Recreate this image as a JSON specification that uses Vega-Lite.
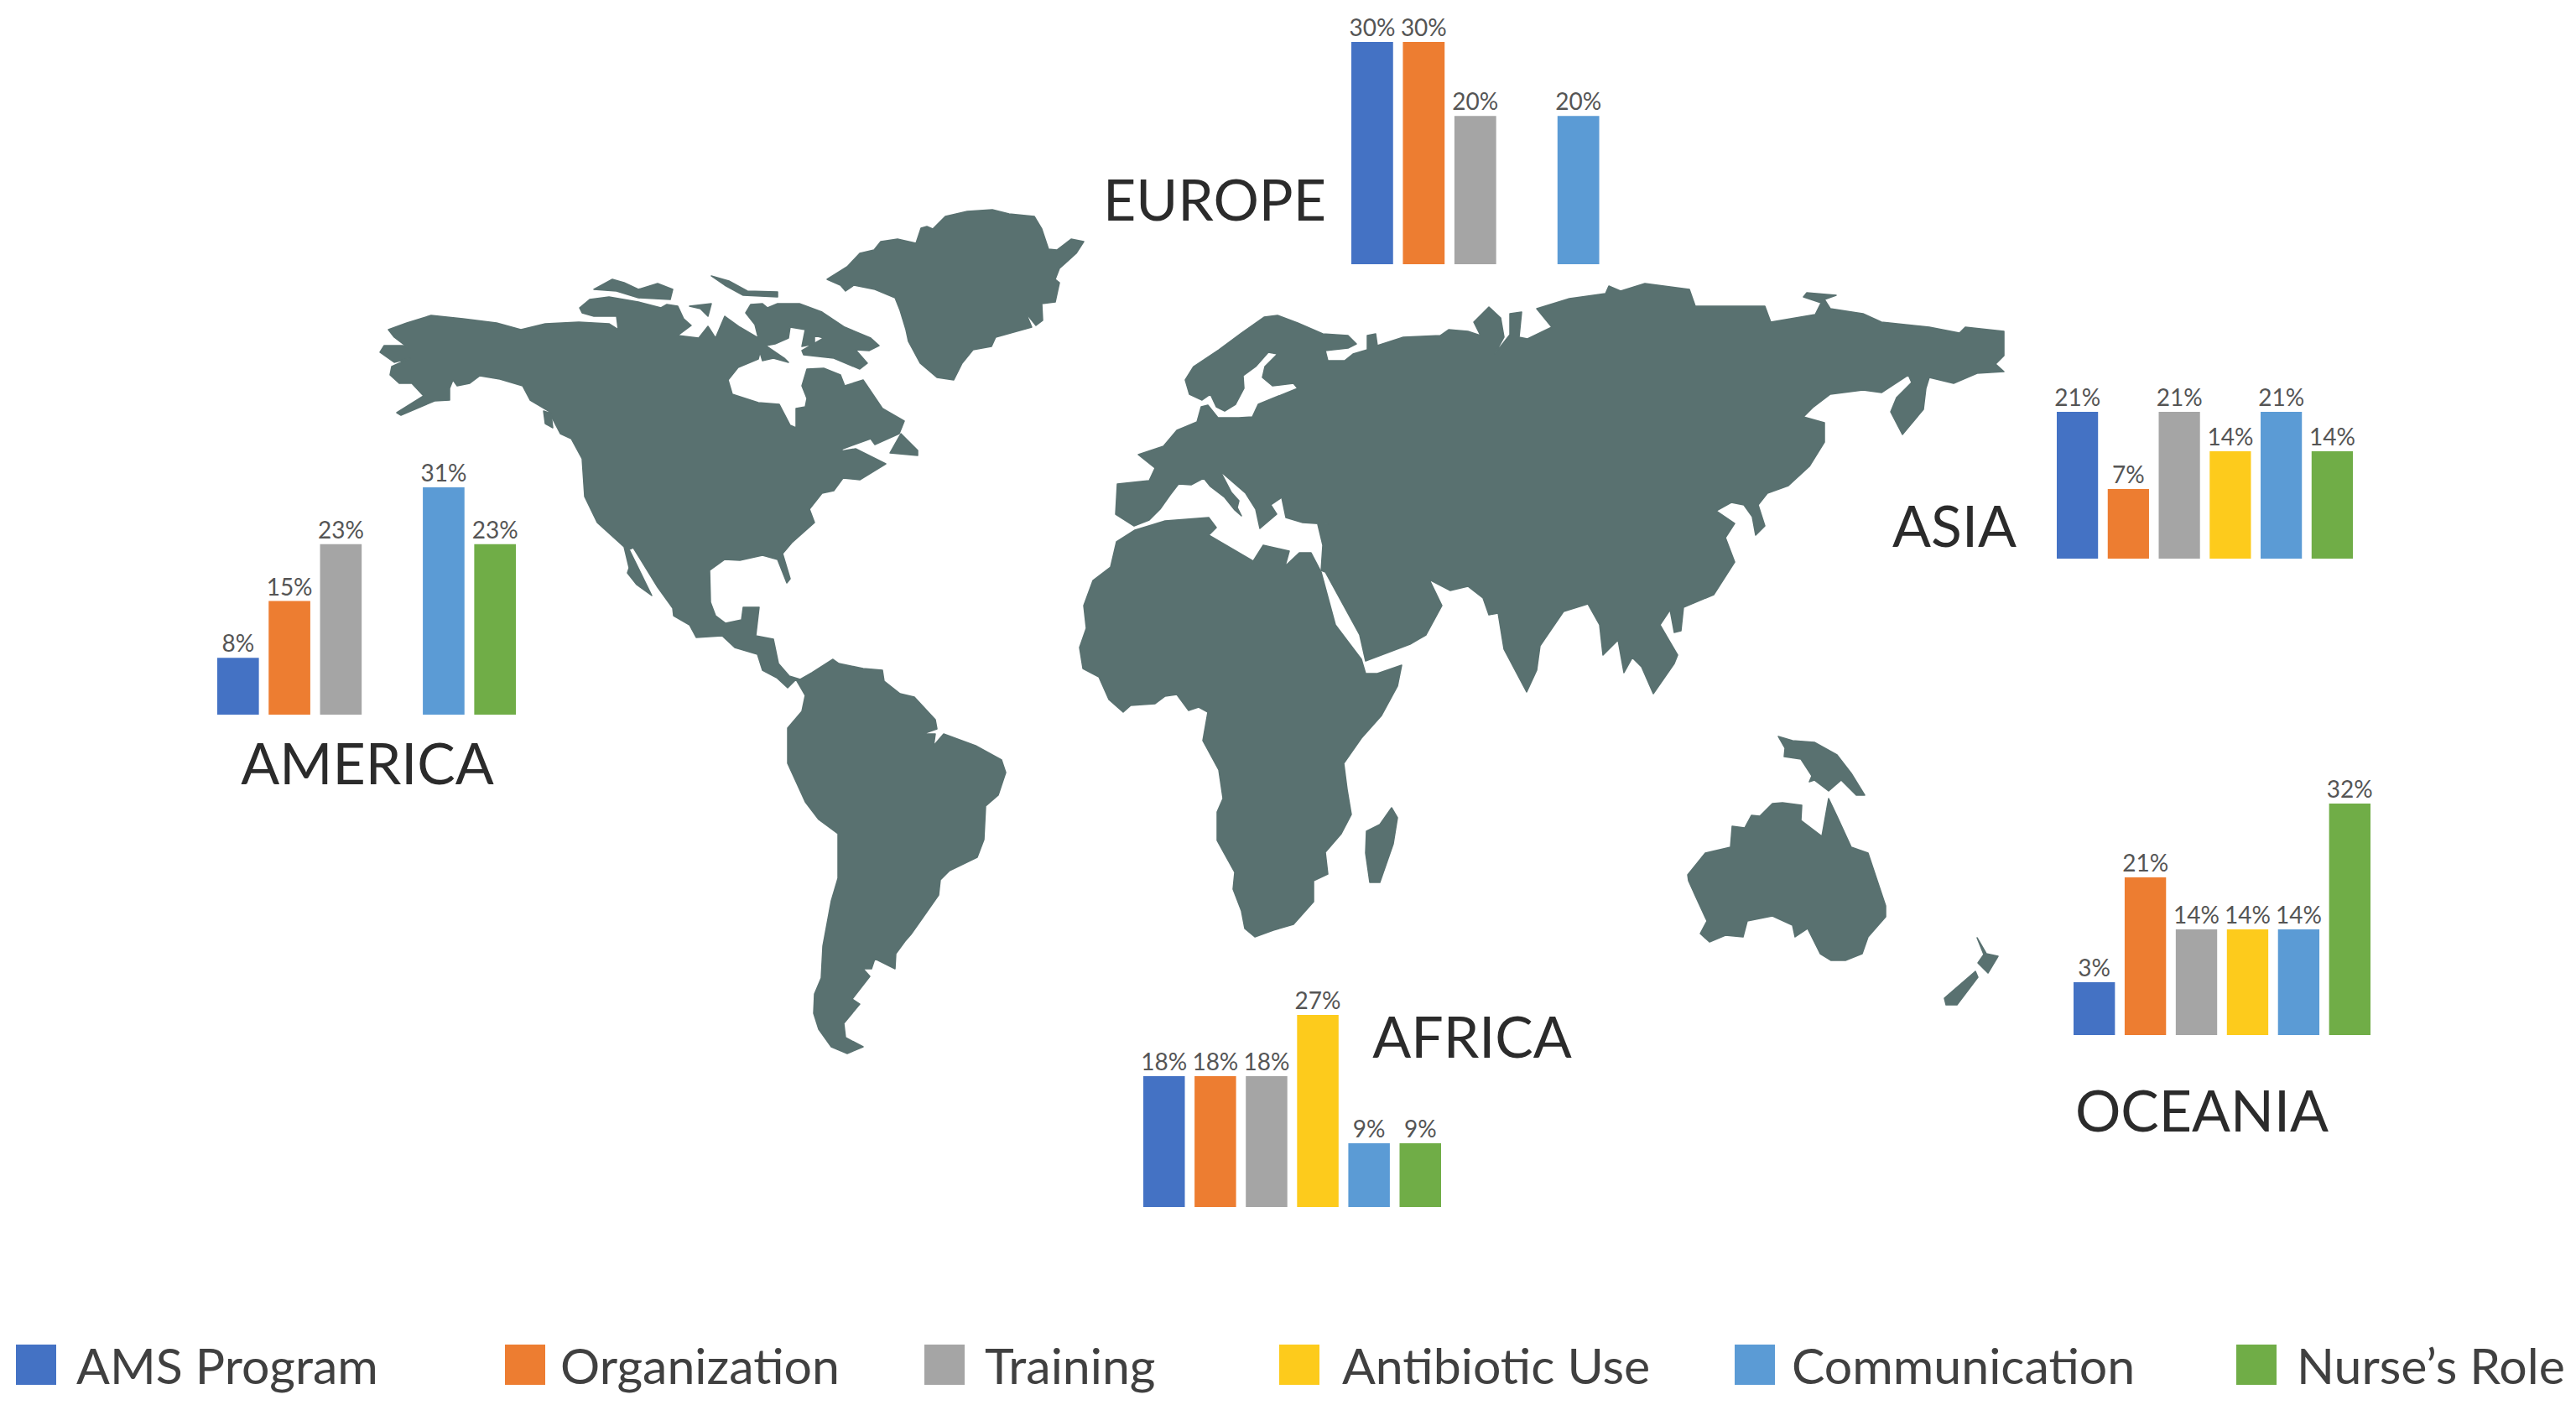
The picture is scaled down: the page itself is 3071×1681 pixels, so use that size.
{
"$schema":"https://vega.github.io/schema/vega-lite/v6.json",
"width":3071,"height":1681,"padding":0,"autosize":{"type":"none"},"background":"#ffffff",
"config":{"view":{"stroke":null},"text":{"font":"Lato"}},
"datasets":{
"bars":[
{"continent":"EUROPE","category":"AMS Program","value":0.3},
{"continent":"EUROPE","category":"Organization","value":0.3},
{"continent":"EUROPE","category":"Training","value":0.2},
{"continent":"EUROPE","category":"Communication","value":0.2},
{"continent":"AMERICA","category":"AMS Program","value":0.077},
{"continent":"AMERICA","category":"Organization","value":0.154},
{"continent":"AMERICA","category":"Training","value":0.231},
{"continent":"AMERICA","category":"Communication","value":0.308},
{"continent":"AMERICA","category":"Nurse’s Role","value":0.231},
{"continent":"ASIA","category":"AMS Program","value":0.214},
{"continent":"ASIA","category":"Organization","value":0.071},
{"continent":"ASIA","category":"Training","value":0.214},
{"continent":"ASIA","category":"Antibiotic Use","value":0.143},
{"continent":"ASIA","category":"Communication","value":0.214},
{"continent":"ASIA","category":"Nurse’s Role","value":0.143},
{"continent":"AFRICA","category":"AMS Program","value":0.182},
{"continent":"AFRICA","category":"Organization","value":0.182},
{"continent":"AFRICA","category":"Training","value":0.182},
{"continent":"AFRICA","category":"Antibiotic Use","value":0.273},
{"continent":"AFRICA","category":"Communication","value":0.091},
{"continent":"AFRICA","category":"Nurse’s Role","value":0.091},
{"continent":"OCEANIA","category":"AMS Program","value":0.034},
{"continent":"OCEANIA","category":"Organization","value":0.21},
{"continent":"OCEANIA","category":"Training","value":0.14},
{"continent":"OCEANIA","category":"Antibiotic Use","value":0.14},
{"continent":"OCEANIA","category":"Communication","value":0.14},
{"continent":"OCEANIA","category":"Nurse’s Role","value":0.32}
],
"regions":[{"continent":"AMERICA","order":1},{"continent":"EUROPE","order":2},{"continent":"ASIA","order":3},{"continent":"AFRICA","order":4},{"continent":"OCEANIA","order":5}],
"categories":[{"category":"AMS Program","order":1},{"category":"Organization","order":2},{"category":"Training","order":3},{"category":"Antibiotic Use","order":4},{"category":"Communication","order":5},{"category":"Nurse’s Role","order":6}],
"land":[
{"type":"Feature","properties":{"name":"North and South America"},"geometry":{"type":"Polygon","coordinates":[[[46.3,39.3],[48.5,38.5],[51.4,37.6],[55.2,38.0],[59.2,38.5],[62.1,39.3],[65.0,38.6],[69.0,38.4],[72.6,38.6],[73.7,39.3],[73.5,37.7],[70.8,37.7],[69.4,37.3],[69.1,36.7],[70.3,35.7],[72.6,35.4],[76.1,36.0],[78.8,36.7],[79.5,36.3],[80.8,36.5],[81.5,38.0],[82.4,38.8],[80.8,40.0],[83.3,40.3],[84.4,38.9],[85.3,40.3],[86.4,37.7],[88.2,39.0],[90.4,40.3],[90.0,38.7],[88.9,37.3],[89.5,36.3],[90.9,36.2],[91.5,36.7],[92.7,36.2],[95.3,36.2],[98.0,37.2],[100.7,39.0],[103.8,40.3],[104.8,41.2],[103.6,41.8],[102.0,41.7],[103.4,43.3],[102.5,44.0],[99.4,42.7],[95.8,42.3],[95.6,41.8],[98.2,40.3],[97.1,40.0],[97.1,41.0],[95.6,41.3],[96.0,39.3],[94.2,39.0],[94.0,40.3],[92.4,41.0],[91.3,41.2],[93.5,42.7],[94.0,43.2],[92.2,42.7],[90.9,43.0],[90.6,42.0],[90.4,42.8],[88.0,43.8],[86.8,45.3],[87.3,47.0],[90.4,48.0],[92.9,48.2],[94.2,50.7],[94.9,51.0],[94.9,48.7],[96.0,48.5],[96.2,47.5],[95.6,46.0],[96.2,44.0],[98.2,43.9],[100.2,44.7],[100.7,46.0],[102.9,45.3],[105.2,48.7],[107.8,50.2],[107.2,51.7],[104.3,53.0],[103.8,52.3],[100.5,53.5],[100.2,53.8],[102.0,53.5],[105.6,55.3],[102.5,57.2],[100.5,57.0],[99.4,58.5],[98.0,58.8],[96.5,60.7],[97.1,62.3],[94.4,64.7],[93.3,66.0],[94.2,69.0],[93.8,69.5],[92.7,66.7],[90.9,66.2],[88.2,66.8],[86.4,66.7],[84.6,68.0],[84.7,71.8],[85.3,73.4],[86.5,74.3],[88.4,73.9],[88.6,72.4],[90.5,72.4],[90.1,75.8],[92.2,76.2],[92.8,79.1],[94.1,80.6],[95.4,81.0],[96.8,80.2],[99.3,78.6],[100.0,79.1],[102.9,79.7],[105.2,79.9],[105.4,81.2],[107.3,82.7],[109.0,83.1],[111.5,85.8],[111.7,86.9],[110.0,87.5],[111.5,87.5],[111.3,88.9],[112.5,87.5],[116.3,88.9],[119.4,90.6],[119.9,92.1],[119.0,94.8],[117.5,96.1],[117.3,100.1],[116.5,102.2],[113.2,103.8],[112.1,104.9],[111.9,106.7],[109.8,109.7],[108.6,111.4],[107.9,112.2],[106.8,113.7],[106.7,115.5],[104.3,114.3],[103.9,115.5],[102.9,115.5],[103.7,116.4],[101.6,119.1],[102.5,119.7],[100.6,122.0],[100.8,123.7],[102.9,124.8],[101.0,125.6],[99.1,124.8],[97.6,122.7],[97.0,120.8],[97.1,118.5],[97.9,116.6],[98.1,112.8],[99.1,107.4],[99.9,104.7],[99.9,99.4],[97.6,97.7],[96.0,95.6],[93.9,91.0],[93.9,86.8],[95.6,84.8],[96.0,82.9],[94.9,81.0],[93.9,82.0],[92.6,80.8],[90.9,79.9],[90.3,78.0],[87.6,77.2],[86.1,75.8],[83.0,76.0],[82.2,74.5],[80.3,73.4],[80.2,72.5],[78.4,70.0],[75.5,65.3],[75.0,65.5],[77.7,71.0],[75.9,69.7],[74.8,68.3],[75.0,67.7],[74.4,65.2],[71.2,62.3],[69.7,59.2],[69.4,54.7],[68.1,52.3],[66.8,51.7],[65.4,49.0],[63.2,47.7],[62.3,46.0],[59.6,45.2],[57.2,44.8],[56.0,45.7],[54.5,46.0],[54.0,45.3],[53.6,46.3],[53.6,47.7],[51.8,47.8],[47.8,49.5],[47.3,49.2],[50.5,47.2],[49.1,45.7],[47.6,45.7],[46.5,44.7],[46.7,43.7],[48.9,42.7],[47.0,43.2],[45.3,42.0],[45.8,41.2],[48.0,41.2],[48.7,41.5],[47.0,40.2],[46.3,39.3]]]}},
{"type":"Feature","properties":{"name":"Arctic islands"},"geometry":{"type":"MultiPolygon","coordinates":[[[[70.8,34.5],[73.0,33.3],[74.4,33.7],[76.1,34.5],[78.4,33.8],[80.2,34.5],[79.9,35.7],[76.1,35.5],[73.5,34.7],[70.8,34.5]]],[[[82.2,36.5],[84.8,36.2],[84.4,37.7],[83.5,36.8],[82.2,36.5]]],[[[84.8,32.9],[86.9,33.5],[89.1,34.7],[92.7,34.8],[92.7,35.4],[88.6,35.2],[86.4,34.0],[84.8,32.9]]],[[[106.1,54.0],[107.4,51.7],[109.4,53.7],[109.4,54.3],[106.1,54.0]]],[[[64.8,49.0],[65.7,49.3],[65.9,51.0],[65.0,50.5],[64.8,49.0]]]]}},
{"type":"Feature","properties":{"name":"Greenland"},"geometry":{"type":"Polygon","coordinates":[[[98.6,33.3],[101.0,31.8],[102.5,30.2],[104.2,29.8],[105.0,28.8],[107.0,28.5],[109.2,29.0],[109.8,27.2],[110.5,27.0],[111.2,27.3],[112.7,25.8],[115.3,25.2],[118.3,25.0],[120.3,25.5],[123.3,25.8],[124.2,27.3],[125.0,29.7],[126.0,29.8],[127.7,28.5],[129.2,28.8],[128.3,30.2],[126.3,32.0],[125.8,33.3],[126.3,33.7],[125.8,36.0],[124.2,36.2],[124.3,38.2],[123.5,38.8],[122.3,37.3],[123.0,39.0],[118.7,40.2],[118.2,41.3],[116.0,41.7],[114.7,43.3],[113.7,45.3],[111.7,45.0],[109.7,43.3],[108.3,40.7],[108.0,39.3],[107.3,37.0],[106.7,35.5],[104.3,34.5],[101.8,34.0],[100.8,34.7],[100.2,34.0],[98.6,33.3]]]}},
{"type":"Feature","properties":{"name":"Eurasia"},"geometry":{"type":"Polygon","coordinates":[[[135.2,62.7],[133.0,61.3],[133.2,57.7],[137.0,57.3],[137.7,55.8],[135.7,54.2],[138.7,53.2],[140.3,51.3],[142.7,50.3],[143.2,48.5],[144.0,48.3],[145.2,49.8],[147.7,49.8],[149.3,49.7],[150.0,48.2],[151.7,47.5],[154.7,46.3],[154.2,45.7],[151.7,46.0],[150.5,45.0],[150.8,43.7],[152.3,42.2],[151.2,42.0],[149.7,43.7],[148.2,44.8],[148.3,46.3],[147.3,48.2],[146.0,49.0],[145.0,48.5],[144.3,47.0],[143.3,47.7],[141.8,47.0],[141.3,45.3],[142.3,43.7],[145.3,41.7],[148.0,39.7],[150.7,37.8],[152.3,37.6],[154.7,38.5],[157.7,39.8],[160.7,40.0],[161.7,41.0],[160.7,41.5],[158.0,41.8],[158.3,43.0],[160.3,43.0],[161.3,42.2],[163.0,41.7],[163.0,40.0],[164.0,39.8],[164.2,41.2],[167.3,40.2],[171.7,40.0],[172.7,39.3],[175.0,39.5],[176.5,40.0],[175.7,38.4],[177.5,36.6],[178.9,37.9],[179.3,40.2],[178.2,42.2],[180.0,39.9],[180.0,37.4],[181.4,37.2],[181.1,40.2],[182.1,40.4],[185.0,39.0],[183.2,36.8],[187.1,35.6],[191.4,35.0],[191.8,34.1],[193.2,34.7],[196.1,33.8],[201.4,34.5],[202.1,36.5],[207.9,36.5],[210.4,36.5],[211.1,38.4],[216.4,37.5],[217.1,36.1],[215.0,35.4],[215.4,34.9],[218.9,35.2],[217.5,35.7],[218.2,36.8],[222.1,37.4],[224.3,38.4],[230.0,39.0],[233.6,39.7],[234.3,39.0],[238.9,39.5],[238.9,42.4],[237.9,43.4],[238.9,44.3],[235.7,44.5],[232.9,45.7],[230.0,45.0],[229.6,46.3],[229.3,48.8],[226.8,51.8],[225.4,49.1],[226.1,47.4],[227.9,45.6],[227.5,44.7],[224.3,46.8],[222.1,46.5],[218.2,47.0],[216.1,48.6],[215.0,49.7],[217.5,50.4],[217.5,52.7],[215.7,55.6],[213.2,57.9],[210.7,58.8],[209.6,60.2],[210.4,62.7],[209.3,63.8],[208.9,61.6],[207.9,60.2],[206.4,59.9],[204.6,60.9],[206.8,62.4],[205.7,64.1],[206.8,67.0],[204.3,70.9],[200.7,72.4],[200.4,75.2],[199.6,75.4],[199.1,72.7],[197.9,74.5],[200.0,78.1],[199.6,79.1],[197.1,82.7],[195.7,79.5],[194.6,78.4],[193.6,80.2],[192.9,76.3],[191.1,78.1],[190.7,74.5],[189.3,72.0],[186.4,72.9],[183.6,77.0],[183.2,79.9],[182.0,82.5],[179.3,77.4],[178.6,73.1],[177.5,73.3],[176.8,71.3],[175.0,69.9],[172.9,70.4],[170.4,69.1],[171.9,72.2],[170.0,75.7],[168.1,76.8],[162.8,78.8],[162.1,75.7],[158.0,68.2],[157.5,68.0],[157.7,65.0],[157.1,62.5],[158.3,62.5],[155.3,62.3],[153.3,61.7],[152.8,59.3],[151.5,60.2],[152.2,61.3],[150.2,63.0],[149.7,60.7],[148.5,58.8],[145.5,56.2],[146.8,58.7],[147.7,59.7],[147.5,60.5],[148.0,61.5],[147.2,60.8],[146.0,59.3],[144.3,58.0],[143.5,57.0],[142.0,57.8],[140.5,57.7],[139.5,59.0],[138.3,60.7],[137.0,62.0],[135.2,62.7]]]}},
{"type":"Feature","properties":{"name":"Africa"},"geometry":{"type":"Polygon","coordinates":[[[135.3,63.2],[138.9,62.1],[144.1,61.7],[145.0,62.9],[144.1,63.8],[149.4,66.9],[150.6,65.0],[153.7,65.7],[153.2,67.5],[154.9,65.9],[156.3,65.9],[157.5,68.2],[159.2,74.5],[162.3,78.6],[162.8,80.3],[164.2,80.3],[167.1,79.3],[166.6,81.8],[164.7,85.3],[162.3,88.0],[160.2,91.0],[160.6,94.1],[161.1,97.1],[159.9,99.4],[158.0,101.6],[158.3,104.2],[156.6,105.0],[156.6,107.5],[154.2,110.2],[151.8,110.9],[149.6,111.7],[148.4,110.7],[148.0,108.6],[147.0,106.0],[147.2,104.0],[145.1,100.2],[145.1,96.8],[145.8,95.2],[145.3,91.8],[143.4,88.3],[144.0,84.9],[142.9,84.3],[141.7,84.7],[140.3,82.8],[138.9,83.0],[137.7,83.9],[134.8,84.1],[133.9,84.9],[132.2,83.4],[131.0,80.7],[129.1,79.7],[128.7,77.2],[129.5,74.9],[129.2,72.2],[130.3,69.2],[132.4,67.6],[133.1,64.6],[135.3,63.2]]]}},
{"type":"Feature","properties":{"name":"Madagascar"},"geometry":{"type":"Polygon","coordinates":[[[165.9,96.3],[166.6,97.5],[166.1,100.6],[164.5,105.2],[163.3,105.2],[162.8,101.7],[162.9,99.1],[164.5,98.3],[165.9,96.3]]]}},
{"type":"Feature","properties":{"name":"Australia"},"geometry":{"type":"Polygon","coordinates":[[[201.2,104.3],[203.3,101.7],[206.3,101.0],[206.5,98.5],[208.0,98.7],[208.8,97.2],[209.8,97.3],[211.3,95.8],[212.5,95.7],[214.8,96.0],[214.7,97.8],[217.2,99.7],[218.0,95.2],[219.0,97.3],[220.7,101.0],[222.7,101.7],[224.8,108.0],[224.8,109.3],[222.7,111.7],[222.0,113.7],[220.0,114.5],[218.3,114.5],[217.0,113.7],[215.5,110.7],[214.0,111.7],[213.7,110.3],[211.3,109.2],[208.3,109.8],[207.8,111.7],[205.7,111.5],[203.8,112.3],[202.7,111.3],[203.5,109.8],[202.2,107.0],[201.3,105.0],[201.2,104.3]]]}},
{"type":"Feature","properties":{"name":"New Guinea"},"geometry":{"type":"Polygon","coordinates":[[[212.0,87.8],[213.7,88.3],[216.3,88.5],[219.0,90.0],[220.7,92.2],[222.3,94.8],[221.3,94.8],[219.5,93.0],[218.0,94.3],[216.3,93.0],[215.7,93.2],[216.0,92.5],[214.7,90.5],[212.7,90.2],[212.8,89.2],[212.0,87.8]]]}},
{"type":"Feature","properties":{"name":"New Zealand"},"geometry":{"type":"MultiPolygon","coordinates":[[[[235.7,111.8],[236.8,113.7],[238.2,114.0],[237.0,116.0],[235.8,114.8],[236.5,113.8],[235.7,111.8]]],[[[235.5,115.8],[235.8,116.5],[233.3,119.8],[232.0,119.8],[231.8,119.0],[235.5,115.8]]]]}}
]
},
"layer":[
{"data":{"name":"land"},"mark":{"type":"geoshape","fill":"#597170","stroke":"#597170","strokeWidth":1.5,"strokeJoin":"round"},"projection":{"type":"identity","scale":10,"translate":[0,0]}},
{"transform":[{"filter":"datum.continent==='EUROPE'"}],"data":{"name":"bars"},"encoding":{
"x":{"field":"category","type":"nominal","axis":null,"scale":{"type":"band","domain":["AMS Program","Organization","Training","Antibiotic Use","Communication","Nurse’s Role"],"range":[1611,1968],"paddingInner":0.19,"paddingOuter":0}},
"y":{"field":"value","type":"quantitative","axis":null,"scale":{"domain":[0,0.3],"range":[315,50],"nice":false}}},
"layer":[{"mark":{"type":"bar"},"encoding":{"color":{"field":"category","type":"nominal","legend":null,"scale":{"domain":["AMS Program","Organization","Training","Antibiotic Use","Communication","Nurse’s Role"],"range":["#4472C4","#ED7D31","#A5A5A5","#FDCB1C","#5B9BD5","#70AD47"]}}}},
{"mark":{"type":"text","font":"Lato","fontSize":28,"color":"#555555","dy":-7,"baseline":"alphabetic"},"encoding":{"text":{"field":"value","type":"quantitative","format":".0%"}}}]},
{"transform":[{"filter":"datum.continent==='AMERICA'"}],"data":{"name":"bars"},"encoding":{
"x":{"field":"category","type":"nominal","axis":null,"scale":{"type":"band","domain":["AMS Program","Organization","Training","Antibiotic Use","Communication","Nurse’s Role"],"range":[259,615],"paddingInner":0.19,"paddingOuter":0}},
"y":{"field":"value","type":"quantitative","axis":null,"scale":{"domain":[0,0.308],"range":[852,581],"nice":false}}},
"layer":[{"mark":{"type":"bar"},"encoding":{"color":{"field":"category","type":"nominal","legend":null}}},
{"mark":{"type":"text","font":"Lato","fontSize":28,"color":"#555555","dy":-7,"baseline":"alphabetic"},"encoding":{"text":{"field":"value","type":"quantitative","format":".0%"}}}]},
{"transform":[{"filter":"datum.continent==='ASIA'"}],"data":{"name":"bars"},"encoding":{
"x":{"field":"category","type":"nominal","axis":null,"scale":{"type":"band","domain":["AMS Program","Organization","Training","Antibiotic Use","Communication","Nurse’s Role"],"range":[2452,2805],"paddingInner":0.19,"paddingOuter":0}},
"y":{"field":"value","type":"quantitative","axis":null,"scale":{"domain":[0,0.071,0.143,0.214],"range":[666,583,538,491],"nice":false}}},
"layer":[{"mark":{"type":"bar"},"encoding":{"color":{"field":"category","type":"nominal","legend":null}}},
{"mark":{"type":"text","font":"Lato","fontSize":28,"color":"#555555","dy":-7,"baseline":"alphabetic"},"encoding":{"text":{"field":"value","type":"quantitative","format":".0%"}}}]},
{"transform":[{"filter":"datum.continent==='AFRICA'"}],"data":{"name":"bars"},"encoding":{
"x":{"field":"category","type":"nominal","axis":null,"scale":{"type":"band","domain":["AMS Program","Organization","Training","Antibiotic Use","Communication","Nurse’s Role"],"range":[1363,1718],"paddingInner":0.19,"paddingOuter":0}},
"y":{"field":"value","type":"quantitative","axis":null,"scale":{"domain":[0,0.091,0.182,0.273],"range":[1439,1363,1283,1210],"nice":false}}},
"layer":[{"mark":{"type":"bar"},"encoding":{"color":{"field":"category","type":"nominal","legend":null}}},
{"mark":{"type":"text","font":"Lato","fontSize":28,"color":"#555555","dy":-7,"baseline":"alphabetic"},"encoding":{"text":{"field":"value","type":"quantitative","format":".0%"}}}]},
{"transform":[{"filter":"datum.continent==='OCEANIA'"}],"data":{"name":"bars"},"encoding":{
"x":{"field":"category","type":"nominal","axis":null,"scale":{"type":"band","domain":["AMS Program","Organization","Training","Antibiotic Use","Communication","Nurse’s Role"],"range":[2472,2826],"paddingInner":0.19,"paddingOuter":0}},
"y":{"field":"value","type":"quantitative","axis":null,"scale":{"domain":[0,0.034,0.14,0.21,0.32],"range":[1234,1171,1108,1046,958],"nice":false}}},
"layer":[{"mark":{"type":"bar"},"encoding":{"color":{"field":"category","type":"nominal","legend":null}}},
{"mark":{"type":"text","font":"Lato","fontSize":28,"color":"#555555","dy":-7,"baseline":"alphabetic"},"encoding":{"text":{"field":"value","type":"quantitative","format":".0%"}}}]},
{"data":{"name":"regions"},"mark":{"type":"text","font":"Lato","fontSize":68,"color":"#2b2b2b","align":"center","baseline":"alphabetic"},"encoding":{
"text":{"field":"continent","type":"nominal"},
"x":{"field":"order","type":"quantitative","axis":null,"scale":{"domain":[1,2,3,4,5],"range":[438,1448,2330,1755,2625],"nice":false,"zero":false}},
"y":{"field":"order","type":"quantitative","axis":null,"scale":{"domain":[1,2,3,4,5],"range":[935,263,652,1261,1349],"nice":false,"zero":false}}}},
{"data":{"name":"categories"},"mark":{"type":"point","shape":"square","filled":true,"size":2304,"opacity":1},"encoding":{
"x":{"field":"order","type":"quantitative","axis":null,"scale":{"domain":[1,2,3,4,5,6],"range":[43,626,1126,1549,2092,2690],"nice":false,"zero":false}},
"y":{"datum":0,"type":"quantitative","axis":null,"scale":{"domain":[0,1],"range":[1627,1000]}},
"color":{"field":"category","type":"nominal","legend":null}}},
{"data":{"name":"categories"},"mark":{"type":"text","font":"Lato","fontSize":59,"color":"#404040","align":"left","baseline":"alphabetic"},"encoding":{
"text":{"field":"category","type":"nominal"},
"x":{"field":"order","type":"quantitative","axis":null,"scale":{"domain":[1,2,3,4,5,6],"range":[91,668,1174,1600,2136,2738],"nice":false,"zero":false}},
"y":{"datum":0,"type":"quantitative","axis":null,"scale":{"domain":[0,1],"range":[1650,1000]}}}}
],
"resolve":{"scale":{"x":"independent","y":"independent"}}
}
